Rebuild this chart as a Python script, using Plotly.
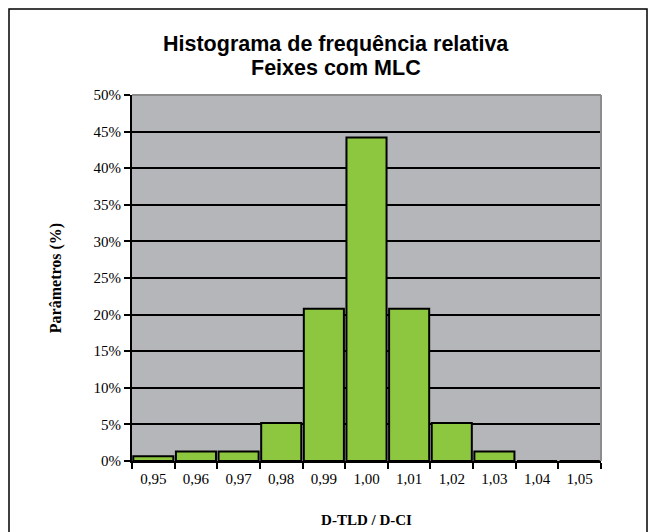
"""
Histograma de frequência relativa - feixes com MLC
"""
import plotly.graph_objects as go

# Dados
categorias = ["0,95", "0,96", "0,97", "0,98", "0,99", "1,00", "1,01", "1,02", "1,03", "1,04", "1,05"]
frequencia = [0.0065, 0.013, 0.013, 0.052, 0.208, 0.442, 0.208, 0.052, 0.013, 0.0, 0.0]
ticks_y = [0, 0.05, 0.10, 0.15, 0.20, 0.25, 0.30, 0.35, 0.40, 0.45, 0.50]
titulo = ["Histograma de frequência relativa", "Feixes com MLC"]

serif = "Liberation Serif, Times New Roman, serif"
sans = "Liberation Sans, Arial, sans-serif"

# área de plotagem em pixels (l, r, t, b) dentro da figura 640x530
L, R, T, B = 124, 47, 87, 77
W, H = 640, 530
pw, ph = W - L - R, H - T - B

fig = go.Figure()

fig.add_trace(go.Bar(
    x=categorias,
    y=frequencia,
    marker=dict(color="#8DC63F", line=dict(color="black", width=2)),
    showlegend=False,
))

fig.update_layout(
    width=W,
    height=H,
    margin=dict(l=L, r=R, t=T, b=B),
    paper_bgcolor="white",
    plot_bgcolor="#B4B6B9",
    bargap=0.06,
    xaxis=dict(
        type="category",
        tickson="boundaries",
        ticks="outside",
        ticklen=6,
        tickwidth=1.5,
        tickcolor="black",
        showline=True,
        linecolor="black",
        linewidth=2,
        showgrid=False,
        ticklabelstandoff=3,
        tickfont=dict(family=serif, size=15, color="black"),
        title=dict(text="<b>D-TLD / D-CI</b>", standoff=28,
                   font=dict(family=serif, size=15, color="black")),
    ),
    yaxis=dict(
        range=[0, 0.5],
        tickvals=ticks_y,
        tickformat=".0%",
        ticks="outside",
        ticklen=6,
        tickwidth=1.5,
        tickcolor="black",
        showline=True,
        linecolor="black",
        linewidth=2,
        showgrid=True,
        gridcolor="black",
        gridwidth=1.5,
        zeroline=False,
        tickfont=dict(family=serif, size=15, color="black"),
        title=dict(text="<b>Parâmetros (%)</b>", standoff=28,
                   font=dict(family=serif, size=16, color="black")),
    ),
)

# Título em duas linhas (espaçamento apertado como no Excel)
for texto, topo in zip(titulo, [36, 60]):
    fig.add_annotation(
        text=f"<b>{texto}</b>",
        xref="paper", yref="paper",
        x=(328 - L) / pw, y=1 + (T - topo) / ph,
        xanchor="center", yanchor="middle",
        showarrow=False,
        font=dict(family=sans, size=21.5, color="black"),
    )

# Borda cinza da área de plotagem (topo e direita)
fig.add_shape(type="line", xref="x domain", yref="y domain",
              x0=0, x1=1, y0=1, y1=1, line=dict(color="#8C8C8C", width=2))
fig.add_shape(type="line", xref="x domain", yref="y domain",
              x0=1, x1=1, y0=0, y1=1, line=dict(color="#8C8C8C", width=2))

# Moldura externa do gráfico
fig.add_shape(type="rect", xref="paper", yref="paper",
              x0=-(L - 1) / pw, x1=1 + (R - 1) / pw,
              y0=-(B + 6) / ph, y1=1 + (T - 1) / ph,
              line=dict(color="black", width=1.5), fillcolor="rgba(0,0,0,0)")

fig.write_html("out.html")
